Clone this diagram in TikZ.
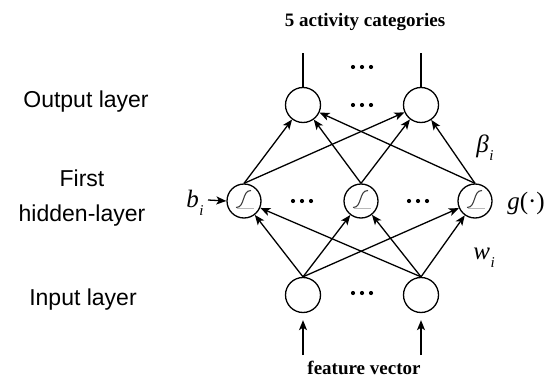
\documentclass[tikz,border=0pt]{standalone}
\usepackage{fontspec}
\setmainfont{Liberation Serif}
\newfontfamily\labelfont{Liberation Sans}
\usetikzlibrary{arrows.meta}

% italic symbol with a lowered italic index
\newcommand{\symsub}[2]{{\itshape #1}\kern0.5pt\raisebox{-0.32em}{\fontsize{15}{15}\selectfont\itshape #2}}

\tikzset{
  neuron/.style={circle, draw, line width=1.3pt, minimum size=35pt, inner sep=0pt},
  hneuron/.style={neuron, minimum size=34pt},
  link/.style={line width=1.3pt, -{Stealth[length=10pt,width=8pt,inset=2.5pt]}},
  plain/.style={line width=1.3pt},
  layerlabel/.style={font=\labelfont\fontsize{23}{35}\selectfont, align=center, inner sep=0pt},
  boldlabel/.style={font=\bfseries\fontsize{19}{22}\selectfont, inner sep=0pt},
  mathlabel/.style={font=\fontsize{25}{28}\selectfont, inner sep=0pt},
  dotrow/.style={fill=black, circle, inner sep=0pt, minimum size=4.2pt},
}

\begin{document}
\begin{tikzpicture}[x=1pt, y=-1pt]
\useasboundingbox (0,0) rectangle (549,380);

% layer names
\node[layerlabel] (lo) at (86,102) {Output layer};
\node[layerlabel] (lh) at (82,198) {First\\hidden-layer};
\node[layerlabel] (li) at (83,300) {Input layer};

% neurons
\node[neuron] (o1) at (303,105) {};
\node[neuron] (o2) at (421,105) {};
\node[hneuron] (h1) at (244,201) {};
\node[hneuron] (h2) at (361,201) {};
\node[hneuron] (h3) at (475,201) {};
\node[neuron] (i1) at (303,295) {};
\node[neuron] (i2) at (421,295) {};

% sigmoid symbol inside each hidden neuron
\foreach \n in {h1,h2,h3}{
  \draw[gray!55, line width=1.4pt] ([shift={(-7,7.5)}]\n.center) -- ([shift={(10,7.5)}]\n.center);
  \draw[black!75, line width=1.1pt] ([shift={(-8,6.5)}]\n.center)
    .. controls ([shift={(1.5,6.5)}]\n.center) and ([shift={(-2.5,-10.5)}]\n.center) .. ([shift={(7,-10.5)}]\n.center);
}

% input -> hidden
\foreach \a in {i1,i2}
  \foreach \b in {h1,h2,h3}
    \draw[link] (\a.north) -- (\b);

% hidden -> output
\foreach \a in {h1,h2,h3}
  \foreach \b in {o1,o2}
    \draw[link] (\a.north) -- (\b);

% outputs
\coordinate (t1) at (303,53);
\coordinate (t2) at (421,53);
\draw[plain] (o1.north) -- (t1);
\draw[plain] (o2.north) -- (t2);

% inputs
\coordinate (f1) at (303,355);
\coordinate (f2) at (421,355);
\draw[link, shorten >=7pt] (f1) -- (i1.south);
\draw[link, shorten >=7pt] (f2) -- (i2.south);

% bias
\coordinate (bs) at (208,200);
\draw[link] (bs) -- (h1.west);

% ellipses
\foreach \x/\y [count=\k] in {362/67, 362/105, 302/201, 418/201, 362/293}{
  \node[dotrow] (d\k a) at (\x-9,\y) {};
  \node[dotrow] (d\k b) at (\x,\y) {};
  \node[dotrow] (d\k c) at (\x+9,\y) {};
}

% captions
\node[boldlabel] (top) at (365,22) {5 activity categories};
\node[boldlabel] (bot) at (364,368) {feature vector};

% symbols
\node[mathlabel] (bi) at (195,203) {\symsub{b}{i}};
\node[mathlabel] (beta) at (485,148) {\symsub{β}{i}};
\node[mathlabel] (gf) at (526,203) {{\itshape g}(·)};
\node[mathlabel] (wi) at (484,258) {\symsub{w}{i}};
\end{tikzpicture}
\end{document}
